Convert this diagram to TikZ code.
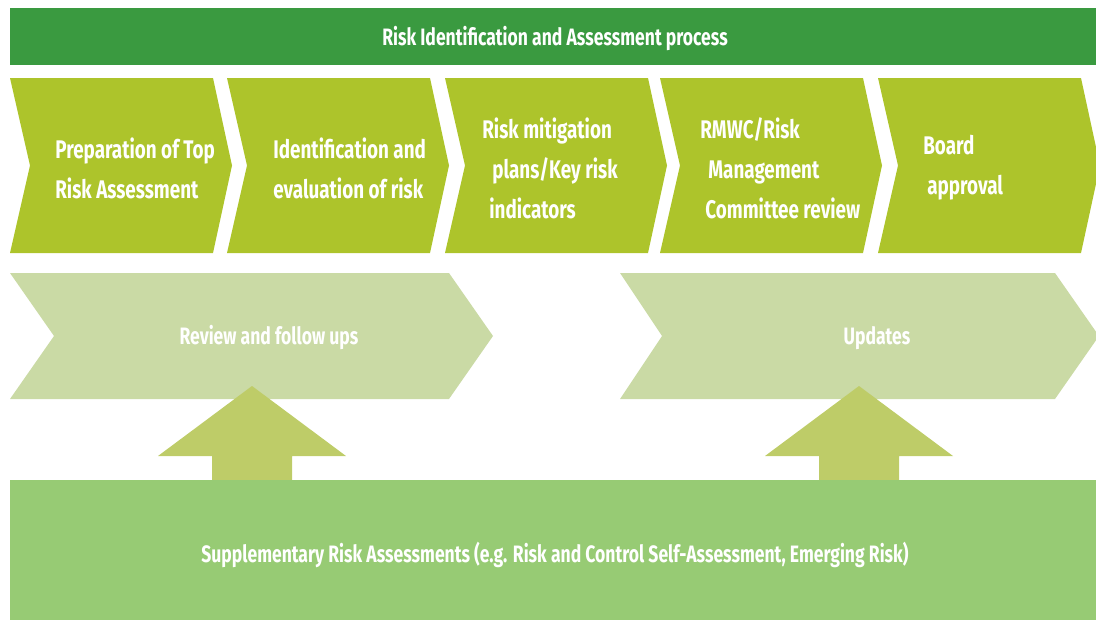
\documentclass[tikz,border=0pt]{standalone}
\usepackage{fontspec}
\setmainfont{Fira Sans}[FakeStretch=0.74]
\definecolor{barGreen}{RGB}{58,154,64}
\definecolor{stepGreen}{RGB}{173,196,43}
\definecolor{paleGreen}{RGB}{202,218,165}
\definecolor{arrowGreen}{RGB}{190,204,104}
\definecolor{baseGreen}{RGB}{151,203,116}
\tikzset{
    steptext/.style={text=white,font=\bfseries\fontsize{14.5}{22.8}\selectfont,align=left,anchor=west,inner sep=0pt},
    bandtext/.style={text=white,font=\bfseries\fontsize{13.5}{16}\selectfont,inner sep=0pt}
}
\begin{document}
\begin{tikzpicture}[x=0.02cm,y=-0.02cm]
        \useasboundingbox(0,0) rectangle(1096,622);
        \fill[barGreen](10,8) rectangle(1096,65);
        \node[bandtext] (title) at (555,39) {Risk Identification and Assessment process};
        \foreach \x/\dx/\txt [count=\i] in {10/45/{Preparation of Top\\Risk Assessment},227/46/{Identification and\\evaluation of risk},445/37/{Risk mitigation\\\hspace*{0.2cm}plans/Key risk\\\hspace*{0.14cm}indicators},660/40/{RMWC/Risk\\\hspace*{0.16cm}Management\\\hspace*{0.1cm}Committee review},878/45/{Board\\\hspace*{0.08cm}approval}}{
            \fill[stepGreen](\x,78)--(\x+203,78)--(\x+222,165.5)--(\x+203,253)--(\x,253)--(\x+20,165.5)--cycle;
            \node[steptext] (step\i) at (\x+\dx,168) {\txt};
        }
        \fill[paleGreen](10,273)--(449,273)--(493,336)--(449,399)--(10,399)--(54,336)--cycle;
        \fill[paleGreen](620,273)--(1055,273)--(1099,336)--(1055,399)--(620,399)--(662,336)--cycle;
        \node[bandtext] (review) at (269,338) {Review and follow ups};
        \node[bandtext] (updates) at (877,338) {Updates};
        \foreach \x in {252,859}{
            \fill[arrowGreen](\x,386)--(\x+94,456)--(\x+40,456)--(\x+40,482)--(\x-40,482)--(\x-40,456)--(\x-94,456)--cycle;
        }
        \fill[baseGreen](10,480) rectangle(1096,620);
        \node[bandtext] (supp) at (555,555) {Supplementary Risk Assessments (e.g. Risk and Control Self-Assessment, Emerging Risk)};
    \end{tikzpicture}
\end{document}
